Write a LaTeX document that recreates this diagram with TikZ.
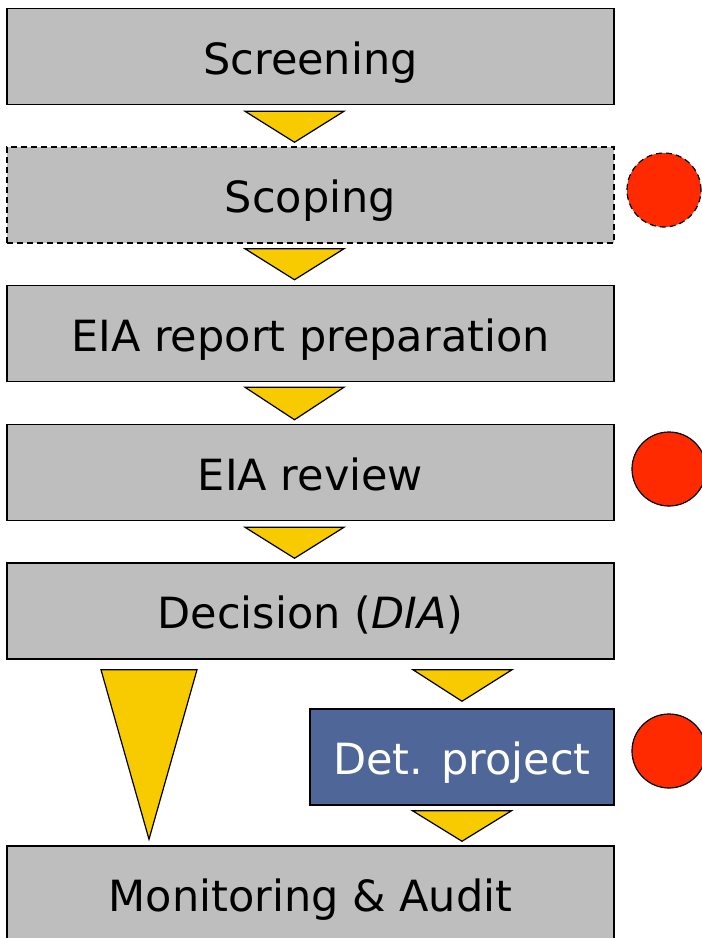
\documentclass[tikz,border=0pt]{standalone}
\usepackage{fontspec}
\setmainfont{DejaVu Sans}
\usetikzlibrary{calc}
\definecolor{boxgray}{RGB}{190,190,190}
\definecolor{arrowyellow}{RGB}{247,203,0}
\definecolor{dotred}{RGB}{255,42,0}
\definecolor{detblue}{RGB}{79,102,152}
\begin{document}
\begin{tikzpicture}[x=1pt,y=-1pt,
  stage/.style={draw=black, line width=1.5pt, fill=boxgray, minimum width=607pt,
    minimum height=96pt, inner sep=0pt, font=\fontsize{43}{50}\selectfont,
    text height=35pt, text depth=0pt},
  detbox/.style={stage, fill=detblue, text=white, minimum width=304pt},
  flowtri/.style={draw=black, line width=1.2pt, fill=arrowyellow, line join=miter},
  longdash/.style={dash pattern=on 6pt off 4pt},
  reddot/.style={circle, draw=black, line width=1.2pt, fill=dotred, minimum size=74pt, inner sep=0pt}]
\useasboundingbox (0,0) rectangle (702,938);

\node[stage] (screen) at (310.5,56.5) {Screening};
\node[stage, longdash] (scope) at (310.5,195) {Scoping};
\node[stage] (report) at (310.5,333.5) {EIA report preparation};
\node[stage] (review) at (310.5,472.5) {EIA review};
\node[stage] (decision) at (310.5,611) {Decision (\textit{DIA})};
\node[detbox] (det) at (462,757) {Det. project};
\node[stage] (monitor) at (310.5,894) {Monitoring \& Audit};

\node[reddot, longdash] (c1) at (664,190) {};
\node[reddot] (c2) at (669,469) {};
\node[reddot] (c3) at (669,751) {};

% connectors (triangles)
\draw[flowtri] ($(screen.south)+(-65.5,6)$) -- ($(screen.south)+(33.5,6)$) -- ($(scope.north)+(-16,-4)$) -- cycle;
\draw[flowtri] ($(scope.south)+(-65.5,5)$) -- ($(scope.south)+(33.5,5)$) -- ($(report.north)+(-16,-5)$) -- cycle;
\draw[flowtri] ($(report.south)+(-65.5,5)$) -- ($(report.south)+(33.5,5)$) -- ($(review.north)+(-16,-4)$) -- cycle;
\draw[flowtri] ($(review.south)+(-65.5,6)$) -- ($(review.south)+(33.5,6)$) -- ($(decision.north)+(-16,-4)$) -- cycle;
\draw[flowtri] ($(decision.south)+(-209.5,10)$) -- ($(decision.south)+(-113.5,10)$) -- ($(monitor.north)+(-161.5,-6)$) -- cycle;
\draw[flowtri] ($(decision.south)+(102.5,10)$) -- ($(decision.south)+(201.5,10)$) -- ($(det.north)+(0,-7)$) -- cycle;
\draw[flowtri] ($(det.south)+(-49.5,5)$) -- ($(det.south)+(49.5,5)$) -- ($(monitor.north)+(151.5,-4)$) -- cycle;
\end{tikzpicture}
\end{document}
